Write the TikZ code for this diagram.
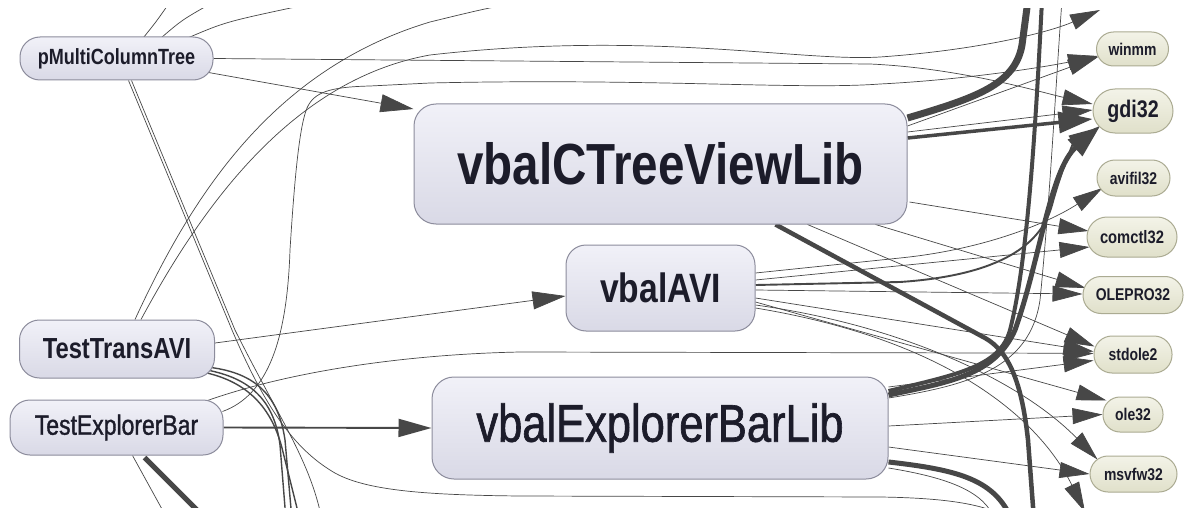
\documentclass[tikz,border=0pt]{standalone}
\usepackage{fontspec}
\newfontfamily\nf[FakeStretch=0.82]{Liberation Sans}
\newfontfamily\nfm[FakeStretch=0.82,FakeBold=1.2]{Liberation Sans}
\usetikzlibrary{arrows.meta,calc}
\pgfdeclarelayer{edges}
\pgfsetlayers{edges,main}
\newcommand\fsz[1]{\nf\fontsize{#1}{#1}\selectfont}
\newcommand\fszm[1]{\nfm\fontsize{#1}{#1}\selectfont}
\definecolor{ec}{HTML}{474747}
\definecolor{lt}{HTML}{F1F1F8}
\definecolor{lb}{HTML}{D9D9E6}
\definecolor{lbd}{HTML}{8C8C9C}
\definecolor{rt}{HTML}{F3F3E8}
\definecolor{rb}{HTML}{E0E0CA}
\definecolor{rbd}{HTML}{ABAB92}
\definecolor{tx}{HTML}{1C1C2A}
\tikzset{
  lnode/.style={shade, top color=lt, bottom color=lb, draw=lbd, line width=1pt,
                rounded corners=#1, inner sep=0pt, text=tx},
  rnode/.style={shade, top color=rt, bottom color=rb, draw=rbd, line width=1pt,
                rounded corners=#1, inner sep=0pt, text=tx},
  ed/.style={draw=ec, line width=0.7pt},
  edm/.style={draw=ec, line width=1.9pt},
  tipR/.style={-{Triangle[length=30pt,width=16pt]}},
  tipL/.style={-{Triangle[length=33pt,width=18pt]}},
  tipK/.style={-{Triangle[length=34pt,width=21pt]}},
}
\begin{document}
\begin{tikzpicture}[x=1pt,y=-1pt]
\useasboundingbox (0,0) rectangle (1185,508);

% libraries and test projects
\node[lnode=20pt, minimum width=193pt, minimum height=43pt, font=\fsz{22}\bfseries] (pm) at (116.5,58.5) {pMultiColumnTree};
\node[lnode=20pt, minimum width=195pt, minimum height=58pt, font=\fsz{29}\bfseries] (tt) at (117,349) {TestTransAVI};
\node[lnode=20pt, minimum width=213pt, minimum height=55pt, font=\fszm{28}] (te) at (116.5,427.5) {TestExplorerBar};
\node[lnode=22pt, minimum width=493pt, minimum height=120pt, font=\fsz{58}\bfseries] (ctv) at (660.5,164) {vbalCTreeViewLib};
\node[lnode=20pt, minimum width=189pt, minimum height=86pt, font=\fsz{41}\bfseries] (avi) at (660.5,288) {vbalAVI};
\node[lnode=22pt, minimum width=456pt, minimum height=102pt, font=\fszm{53}] (veb) at (660,428) {vbalExplorerBarLib};

% system dlls
\node[rnode=17pt, minimum width=72pt, minimum height=34pt, font=\fsz{17}\bfseries] (winmm) at (1132.5,49) {winmm};
\node[rnode=22pt, minimum width=80pt, minimum height=44pt, font=\fsz{24}\bfseries] (gdi) at (1133,111) {gdi32};
\node[rnode=18pt, minimum width=73pt, minimum height=36pt, font=\fsz{17}\bfseries] (avifil) at (1133.5,178) {avifil32};
\node[rnode=20pt, minimum width=90pt, minimum height=40pt, font=\fsz{18}\bfseries] (comctl) at (1132,237) {comctl32};
\node[rnode=18pt, minimum width=100pt, minimum height=37pt, font=\fsz{17}\bfseries] (olepro) at (1133,295) {OLEPRO32};
\node[rnode=18pt, minimum width=78pt, minimum height=37pt, font=\fsz{17}\bfseries] (stdole) at (1133,354.5) {stdole2};
\node[rnode=17pt, minimum width=60pt, minimum height=35pt, font=\fsz{17}\bfseries] (ole) at (1133,414.5) {ole32};
\node[rnode=18pt, minimum width=87pt, minimum height=36pt, font=\fsz{17}\bfseries] (msvfw) at (1133.5,474) {msvfw32};

% ends of connectors that leave the visible area
\coordinate (o1) at (170,2);
\coordinate (o2) at (210,4);
\coordinate (o3) at (300,6);
\coordinate (o4) at (640,-5);
\coordinate (o5) at (1100,10);
\coordinate (o6) at (1010,520);
\coordinate (o7) at (322,520);
\coordinate (o8a) at (292,520);
\coordinate (o8b) at (286,520);
\coordinate (o8c) at (300,520);
\coordinate (o9) at (207,520);
\coordinate (o10) at (168,520);
\coordinate (o11) at (1028,0);
\coordinate (o12) at (1034,520);
\coordinate (o13) at (1085,512);
\coordinate (o14) at (1042,0);
\coordinate (o15) at (1062,0);
\coordinate (o16) at (1012,520);
\coordinate (o17) at (995,520);

\begin{pgfonlayer}{edges}
\fill[white] (0,0) rectangle (1185,508);
\begin{scope}
\clip (0,9) rectangle (1185,508);
% pMultiColumnTree
\draw[ed,tipL] ($(pm.east)+(-5,14)$) -- ($(ctv.west)+(0,-55)$);
\draw[ed,tipR] (pm.east) -- (870,64) .. controls (960,68) and (1040,92) .. ($(gdi.west)+(0,-7)$);
\draw[ed] ($(pm.north)+(27,1)$) .. controls (156,22) .. (o1);
\draw[ed] ($(pm.north)+(45,1)$) .. controls (182,20) .. (o2);
\draw[ed] ($(pm.north)+(70,2)$) .. controls (225,22) .. (o3);
\draw[ed] ($(pm.south)+(12,0)$) -- (232,330) .. controls (262,400) and (290,445) .. (330,470)
          .. controls (360,490) and (420,495) .. (520,496) -- (880,497) .. controls (950,498) and (990,505) .. (o6);
\draw[ed] ($(pm.south)+(15,0)$) -- (235,330) .. controls (280,420) and (310,460) .. (o7);

% TestTransAVI
\draw[ed] ($(tt.north)+(18,0)$) .. controls (190,200) and (270,70) .. (430,22) .. controls (520,0) .. (o4);
\draw[ed,tipR] ($(tt.north)+(24,0)$) .. controls (200,210) and (290,80) .. (430,55)
          .. controls (650,30) and (800,62) .. (880,57) .. controls (980,50) and (1050,32) .. (o5);
\draw[ed,tipL] ($(tt.east)+(0,-6)$) -- ($(avi.west)+(0,8)$);
\draw[ed,line width=1.4pt] ($(tt.east)+(-8,18)$) .. controls (252,372) and (278,392) .. (285,440) -- (o8a);
\draw[ed,line width=1.4pt] ($(tt.east)+(-8,21)$) .. controls (248,378) and (274,398) .. (280,445) -- (o8b);
\draw[ed,line width=1.4pt] ($(tt.east)+(-8,24)$) .. controls (245,382) and (272,405) .. (283,452) -- (o8c);

% TestExplorerBar
\draw[ed,tipR] ($(te.north east)+(-1,12)$) .. controls (268,395) and (287,340) .. (290,250)
          .. controls (295,170) and (300,125) .. (307,108) .. controls (314,92) and (330,87) .. (370,86)
          -- (430,83) .. controls (650,78) and (800,90) .. (880,84) .. controls (960,80) and (1040,68) .. ($(winmm.west)+(2,7)$);
\draw[edm,tipL] (te.east) -- (veb.west);
\draw[ed,line width=5pt] ($(te.south)+(28,2)$) -- (o9);
\draw[ed] ($(te.south)+(16,0)$) -- (o10);
\draw[ed,tipR] ($(te.north east)+(-16,1)$) .. controls (300,368) and (420,354) .. (520,352) -- (1000,353) -- ($(stdole.west)+(0,-1)$);

% vbalCTreeViewLib
\draw[ed,line width=7pt] ($(ctv.east)+(0,-46)$) .. controls (975,98) and (1015,85) .. (1022,45) -- (o11);
\draw[ed,line width=3.5pt,tipK] ($(ctv.east)+(0,-26)$) -- ($(gdi.west)+(0,8)$);
\draw[ed,tipR] ($(ctv.east)+(0,-38)$) -- ($(winmm.west)+(2,8)$);
\draw[ed,tipR] ($(ctv.east)+(0,-32)$) -- ($(gdi.west)+(0,-1)$);
\draw[ed,tipR] ($(ctv.east)+(2,38)$) -- ($(comctl.west)+(2,-6)$);
\draw[ed,tipR] ($(ctv.south east)+(-32,0)$) -- ($(olepro.west)+(3,-7)$);
\draw[ed,tipR] ($(ctv.south east)+(-100,0)$) -- ($(stdole.west)+(1,-8)$);
\draw[ed,line width=4.5pt] ($(ctv.south)+(115,0)$) -- (985,338) .. controls (1010,352) and (1022,385) .. (1028,440) -- (o12);

% vbalAVI
\draw[ed,tipR] ($(avi.east)+(0,-15)$) -- (900,258) .. controls (980,250) and (1045,225) .. ($(avifil.west)+(6,10)$);
\draw[ed,tipR] ($(avi.east)+(0,-8)$) -- ($(comctl.west)+(3,10)$);
\draw[edm,tipR] ($(avi.east)+(0,-3)$) -- (900,282) .. controls (990,276) and (1040,250) .. (1052,205)
          .. controls (1062,168) and (1074,142) .. ($(gdi.south west)+(6,-6)$);
\draw[ed,tipR] ($(avi.east)+(0,2)$) -- ($(olepro.west)+(0,-1)$);
\draw[ed,tipR] ($(avi.east)+(0,10)$) -- ($(stdole.west)+(0,-3)$);
\draw[ed,tipR] ($(avi.east)+(0,14)$) -- ($(ole.north west)+(4,4)$);
\draw[ed,tipR] ($(avi.east)+(0,17)$) .. controls (900,325) and (1020,380) .. ($(msvfw.north west)+(8,4)$);
\draw[ed,tipR] ($(avi.east)+(0,20)$) .. controls (950,340) and (1040,420) .. (o13);

% vbalExplorerBarLib
\draw[ed,line width=5pt,tipK] ($(veb.east)+(0,-33)$) .. controls (950,382) and (995,375) .. (1015,330)
          .. controls (1040,260) and (1050,170) .. ($(gdi.south west)+(8,-8)$);
\draw[ed,line width=4pt] ($(veb.east)+(0,-37)$) .. controls (960,374) and (1000,366) .. (1010,330)
          .. controls (1028,260) and (1036,120) .. (o14);
\draw[ed] ($(veb.east)+(0,-30)$) .. controls (970,385) and (1030,368) .. (1040,300)
          .. controls (1050,200) and (1056,80) .. (o15);
\draw[ed,tipR] ($(veb.east)+(0,-41)$) -- ($(stdole.west)+(0,6)$);
\draw[ed,tipR] ($(veb.east)+(0,-2)$) -- (ole.west);
\draw[ed,tipR] ($(veb.east)+(0,19)$) -- (msvfw.west);
\draw[ed,line width=5pt] ($(veb.east)+(0,34)$) .. controls (960,470) and (995,480) .. (o16);
\draw[ed] ($(veb.east)+(0,40)$) .. controls (950,478) and (985,492) .. (o17);
\end{scope}
\end{pgfonlayer}
\end{tikzpicture}
\end{document}
